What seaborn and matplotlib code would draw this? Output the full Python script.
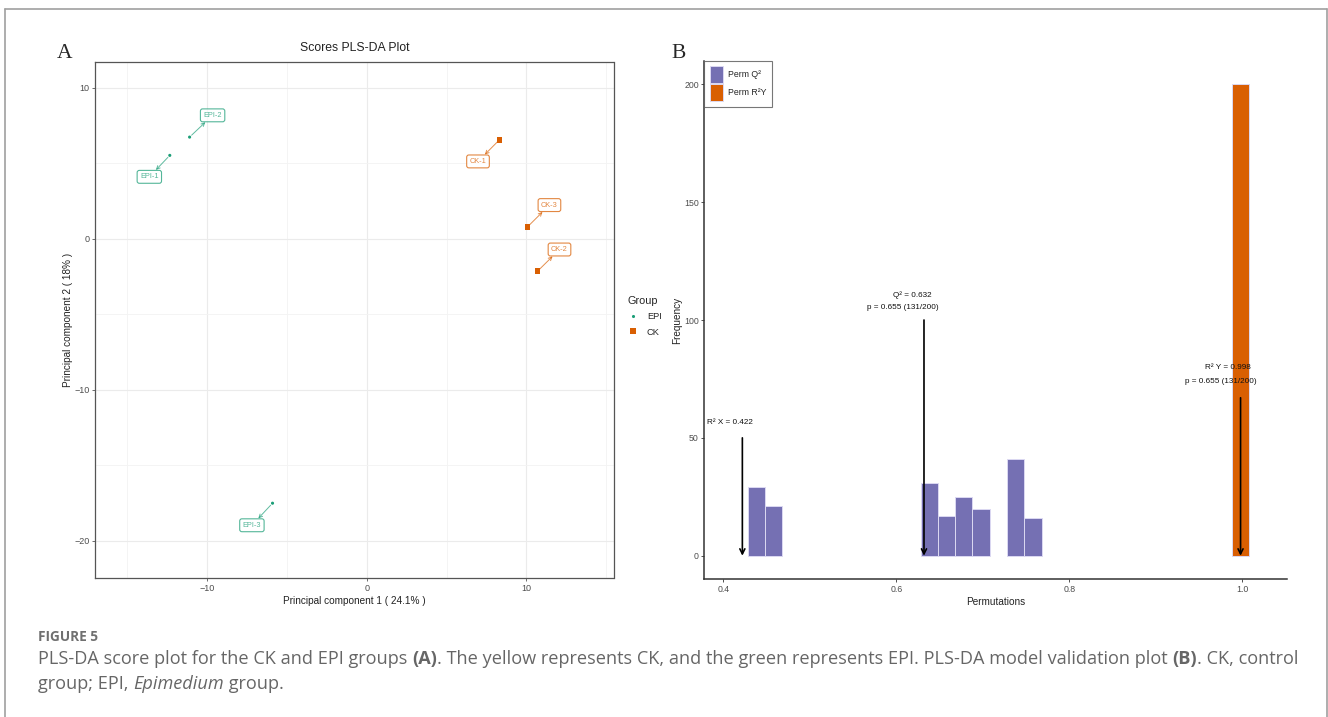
import numpy as np
import pandas as pd
import matplotlib
matplotlib.use('Agg')
import matplotlib.pyplot as plt
from matplotlib.lines import Line2D
import seaborn as sns

# ---- dados painel A (scores PLS-DA) ----
amostras = ['EPI-1', 'EPI-2', 'EPI-3', 'CK-1', 'CK-2', 'CK-3']
grupos = ['EPI', 'EPI', 'EPI', 'CK', 'CK', 'CK']
pc1 = [-12.32, -11.08, -5.89, 8.32, 10.70, 10.07]
pc2 = [5.52, 6.73, -17.5, 6.56, -2.14, 0.79]
rotulo_x = [-13.6, -9.64, -7.18, 6.97, 12.07, 11.44]
rotulo_y = [4.1, 8.17, -18.96, 5.12, -0.71, 2.23]

# ---- dados painel B (validação por permutação) ----
perm_tipo = ['Perm Q²'] * 8 + ['Perm R²Y']
perm_centro = [0.438, 0.458, 0.638, 0.658, 0.678, 0.698, 0.738, 0.758, 0.998]
perm_freq = [29, 21, 31, 17, 25, 20, 41, 16, 200]

r2x, q2, r2y = 0.422, 0.632, 0.998

cores = {'EPI': '#1B9E77', 'CK': '#D95F02'}
cores_perm = {'Perm Q²': '#7570B3', 'Perm R²Y': '#D95F02'}

sns.set_theme(style='white')
fonte = ['Liberation Sans', 'DejaVu Sans']
plt.rcParams['font.family'] = fonte

W, H = 1328, 717
fig = plt.figure(figsize=(W / 100, H / 100), dpi=100)


def fx(px):
    return px / W


def fy(py):
    return 1 - py / H


# ================= Painel A =================
axA = fig.add_axes([fx(95), fy(578), fx(613.5) - fx(95), fy(62) - fy(578)])
dfA = pd.DataFrame({'PC1': pc1, 'PC2': pc2, 'Group': grupos, 'amostra': amostras})
sns.scatterplot(data=dfA, x='PC1', y='PC2', hue='Group', style='Group', size='Group',
                hue_order=['EPI', 'CK'], palette=cores,
                markers={'EPI': 'o', 'CK': 's'}, sizes={'EPI': 5, 'CK': 17},
                linewidth=0, ax=axA, zorder=3)
axA.set_xlim(-17.0, 15.45)
axA.set_ylim(-22.45, 11.7)
axA.set_xticks([-10, 0, 10])
axA.set_yticks([-20, -10, 0, 10])
axA.set_xticks([-15, -5, 5, 15], minor=True)
axA.set_yticks([-15, -5, 5], minor=True)
axA.grid(which='major', color='#EBEBEB', lw=0.8)
axA.grid(which='minor', color='#F3F3F3', lw=0.6)
axA.set_axisbelow(True)
for sp in axA.spines.values():
    sp.set_color('#555555')
    sp.set_linewidth(0.9)
axA.tick_params(axis='both', which='major', length=2.5, width=0.6, color='#555555',
                labelsize=6.5, labelcolor='#4D4D4D', pad=1.5, bottom=True, left=True)
axA.tick_params(which='minor', length=0)
axA.set_xlabel('Principal component 1 ( 24.1% )', fontsize=7.2, color='#222222', labelpad=2.5)
axA.set_ylabel('Principal component 2 ( 18% )', fontsize=7.2, color='#222222', labelpad=1)
axA.set_title('Scores PLS-DA Plot', fontsize=8.8, color='#222222', pad=8)

for i in range(len(amostras)):
    c = cores[grupos[i]]
    axA.annotate(amostras[i], xy=(pc1[i], pc2[i]), xytext=(rotulo_x[i], rotulo_y[i]),
                 fontsize=5.3, color=c, alpha=0.75, ha='center', va='center',
                 bbox=dict(boxstyle='round,pad=0.4,rounding_size=0.3', fc='white', ec=c, lw=0.8,
                           alpha=0.75),
                 arrowprops=dict(arrowstyle='<-', color=c, lw=0.7, alpha=0.7,
                                 shrinkA=0, shrinkB=2, mutation_scale=6))

sns.move_legend(axA, 'upper left', bbox_to_anchor=(fx(620), fy(292)),
                bbox_transform=fig.transFigure, frameon=False, title='Group',
                fontsize=6.7, title_fontsize=7.8, handletextpad=0.5, labelspacing=0.7,
                borderaxespad=0)

# ================= Painel B =================
axB = fig.add_axes([fx(704.3), fy(579.3), fx(1287) - fx(704.3), fy(60.7) - fy(579.3)])
dfB = pd.DataFrame({'valor': perm_centro, 'freq': perm_freq, 'tipo': perm_tipo})
sns.histplot(data=dfB, x='valor', weights='freq', hue='tipo', palette=cores_perm,
             hue_order=['Perm Q²', 'Perm R²Y'], binwidth=0.02, binrange=(0.428, 1.008),
             alpha=1, edgecolor='#DCD9F2', linewidth=0.7, ax=axB, zorder=2)
# ggplot não desenha as classes vazias
for p in axB.patches:
    if p.get_height() == 0:
        p.set_visible(False)
axB.set_xlim(0.378, 1.0517)
axB.set_ylim(-10, 210)
axB.set_xticks([0.4, 0.6, 0.8, 1.0])
axB.set_xticklabels(['0.4', '0.6', '0.8', '1.0'])
axB.set_yticks([0, 50, 100, 150, 200])
sns.despine(ax=axB)
for sp in ['left', 'bottom']:
    axB.spines[sp].set_color('#333333')
    axB.spines[sp].set_linewidth(1.1)
axB.tick_params(axis='both', length=2.5, width=0.6, color='#333333', labelsize=6.3,
                labelcolor='#4D4D4D', pad=1.5, bottom=True, left=True)
axB.set_xlabel('Permutations', fontsize=7.2, color='#222222', labelpad=2.5)
axB.set_ylabel('Frequency', fontsize=7.2, color='#222222', labelpad=1.5)

seta = dict(arrowstyle='->', color='black', lw=1.2, mutation_scale=9, shrinkA=0, shrinkB=0)
axB.annotate('', xy=(r2x, 0), xytext=(r2x, 50), arrowprops=seta, zorder=5)
axB.annotate('', xy=(q2, 0), xytext=(q2, 100), arrowprops=seta, zorder=5)
axB.annotate('', xy=(r2y, 0), xytext=(r2y, 67), arrowprops=seta, zorder=5)

tam = 5.9
axB.text(0.381, 56.6, f'R² X = {r2x}', fontsize=tam, ha='left', va='center', color='#111111')
axB.text(0.619, 110.7, f'Q² = {q2}', fontsize=tam, ha='center', va='center', color='#111111')
axB.text(0.608, 105.1, 'p = 0.655 (131/200)', fontsize=tam, ha='center', va='center', color='#111111')
axB.text(0.9836, 79.7, f'R² Y = {r2y}', fontsize=tam, ha='center', va='center', color='#111111', zorder=6)
axB.text(0.975, 74.0, 'p = 0.655 (131/200)', fontsize=tam, ha='center', va='center', color='#111111', zorder=6)

sns.move_legend(axB, 'upper left', bbox_to_anchor=(0, 1), frameon=True, title=None,
                fontsize=6.3, handlelength=1.55, handleheight=2.7, handletextpad=0.6,
                labelspacing=0.05, borderpad=0.6, borderaxespad=0, fancybox=False)
legB = axB.get_legend()
legB.get_frame().set_edgecolor('#555555')
legB.get_frame().set_linewidth(0.8)

# ---- letras dos painéis ----
serif = ['Liberation Serif', 'DejaVu Serif']
fig.text(fx(64.8), fy(54), 'A', fontsize=15.5, family=serif, ha='center', va='center')
fig.text(fx(678.6), fy(54), 'B', fontsize=15.5, family=serif, ha='center', va='center')

# ---- moldura ----
cor_moldura = '#A0A0A0'
fig.add_artist(Line2D([fx(4.5), fx(4.5)], [0, fy(8.5)], color=cor_moldura, lw=1.2))
fig.add_artist(Line2D([fx(4.5), fx(1327)], [fy(8.5), fy(8.5)], color=cor_moldura, lw=1.2))
fig.add_artist(Line2D([fx(1327), fx(1327)], [0, fy(8.5)], color=cor_moldura, lw=1.2))

# ---- legenda da figura ----
fonte_leg = ['Open Sans', 'Lato', 'DejaVu Sans']
cor_txt = '#666666'
tam_leg = 13.1
fig.text(fx(38), fy(637), 'FIGURE 5', fontsize=9.8, family=fonte_leg, weight='bold',
         color='#707070', va='center')

renderer = fig.canvas.get_renderer()


def escrever_linha(partes, py):
    x = fx(38)
    for texto, peso, estilo in partes:
        t = fig.text(x, fy(py), texto, fontsize=tam_leg, family=fonte_leg, weight=peso,
                     style=estilo, color=cor_txt, va='center')
        bb = t.get_window_extent(renderer=renderer)
        x += bb.width / W


linha1 = [
    ('PLS-DA score plot for the CK and EPI groups ', 'normal', 'normal'),
    ('(A)', 'bold', 'normal'),
    ('. The yellow represents CK, and the green represents EPI. PLS-DA model validation plot ', 'normal', 'normal'),
    ('(B)', 'bold', 'normal'),
    ('. CK, control', 'normal', 'normal'),
]
linha2 = [
    ('group; EPI, ', 'normal', 'normal'),
    ('Epimedium', 'normal', 'italic'),
    (' group.', 'normal', 'normal'),
]
escrever_linha(linha1, 659)
escrever_linha(linha2, 684)

fig.savefig('out.png', dpi=100)
